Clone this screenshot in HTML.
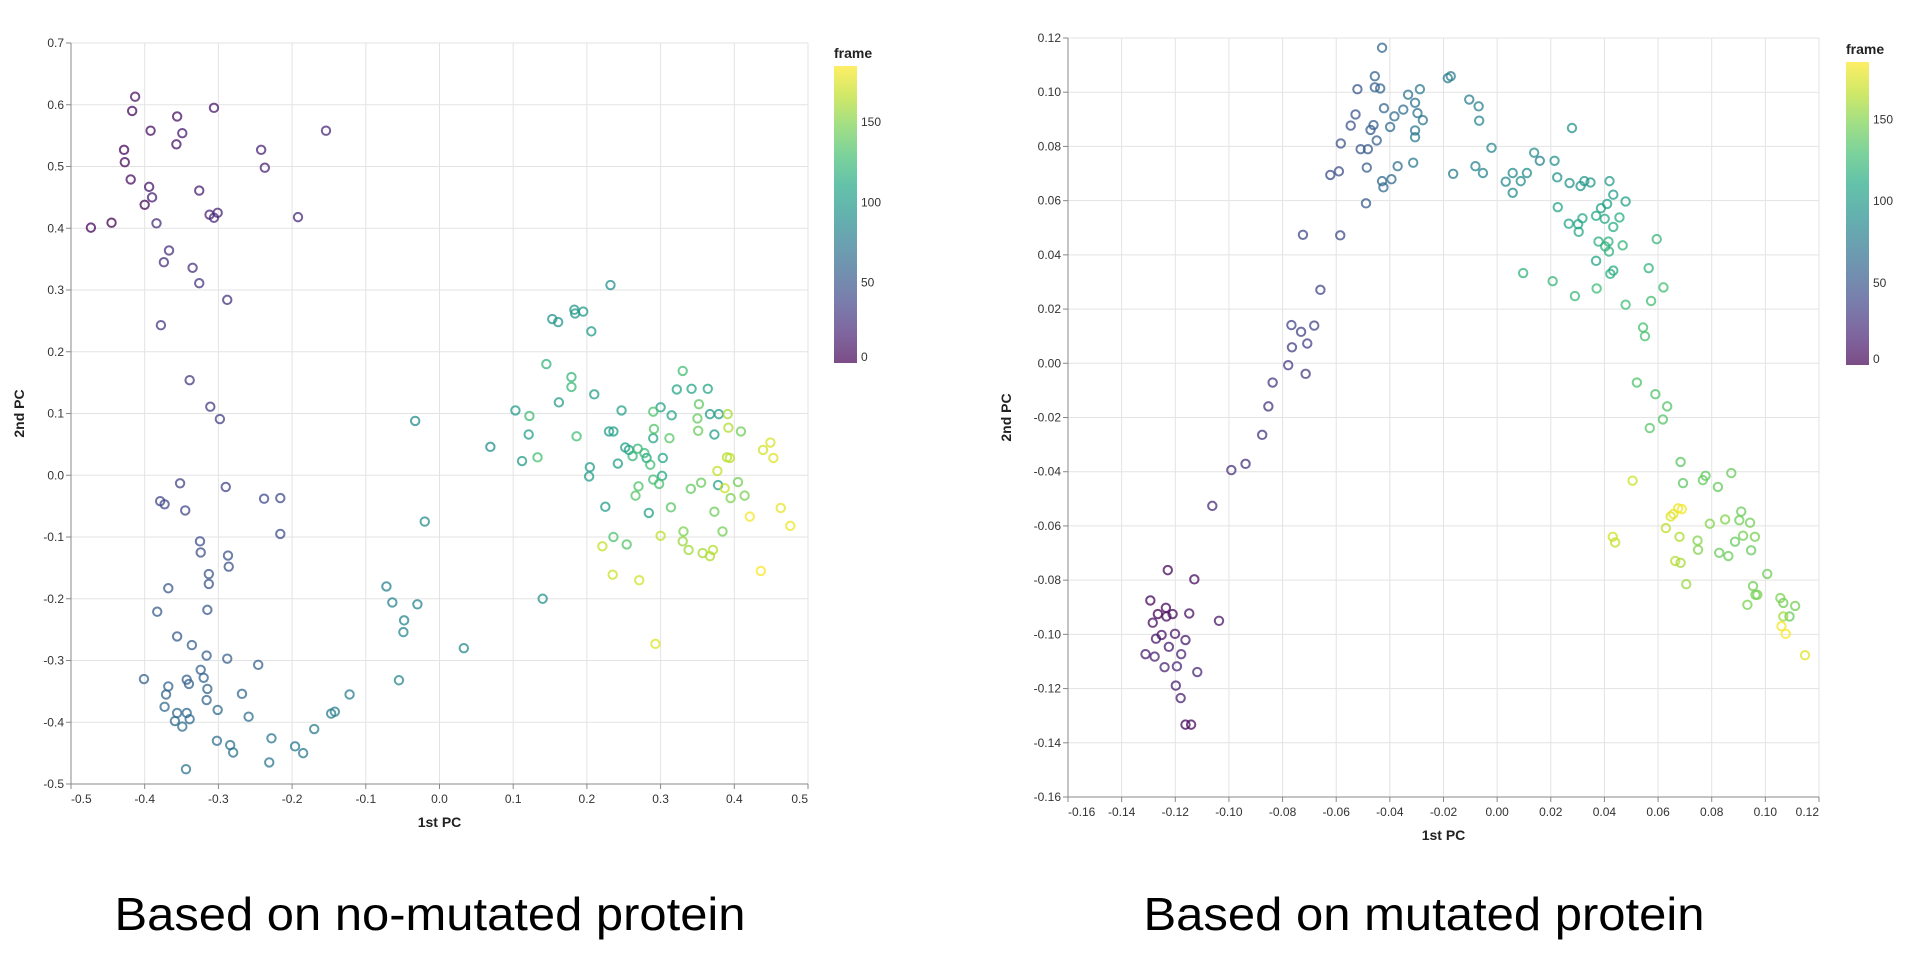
<!DOCTYPE html>
<html><head><meta charset="utf-8"><style>
html,body{margin:0;padding:0;background:#fff;}
svg{display:block;font-family:"Liberation Sans",Arial,sans-serif;}
</style></head><body>
<svg id="svg" width="1928" height="956" viewBox="0 0 1928 956"></svg>
<script>
// ---- Left chart data (no-mutated protein)
const leftPC1 = [-0.413,-0.417,-0.356,-0.306,-0.392,-0.349,-0.357,-0.154,-0.428,-0.242,-0.427,-0.237,-0.419,-0.394,-0.326,-0.390,-0.400,-0.312,-0.301,-0.306,-0.192,-0.473,-0.445,-0.384,-0.367,-0.374,-0.335,-0.326,-0.288,-0.378,-0.339,-0.311,-0.298,
-0.352,-0.290,-0.379,-0.373,-0.345,-0.238,-0.216,-0.216,-0.325,-0.324,-0.287,-0.286,-0.313,-0.313,-0.368,-0.315,-0.383,-0.356,-0.336,-0.316,-0.288,-0.246,-0.401,-0.343,-0.340,-0.324,-0.320,-0.368,-0.371,-0.315,-0.316,-0.268,-0.373,-0.356,-0.343,-0.359,-0.339,-0.349,-0.301,-0.259,-0.302,-0.284,-0.280,-0.344,-0.228,-0.231,-0.196,-0.185,-0.170,-0.147,-0.142,-0.122,
-0.072,-0.064,-0.030,-0.048,-0.049,-0.055,0.033,-0.033,-0.020,0.069,0.140,
0.232,0.153,0.161,0.183,0.184,0.195,0.206,0.103,0.121,0.112,0.162,0.210,0.247,0.300,0.315,0.322,0.342,0.364,0.330,0.367,0.379,0.373,0.230,0.236,0.252,0.257,0.290,0.281,0.303,0.302,0.204,0.203,0.242,0.225,0.284,0.378,
0.145,0.179,0.179,0.122,0.186,0.133,0.290,0.291,0.312,0.352,0.350,0.351,0.409,0.262,0.269,0.278,0.286,0.290,0.298,0.270,0.266,0.314,0.341,0.355,0.373,0.405,0.414,0.395,0.384,0.331,0.236,0.254,
0.391,0.392,0.390,0.394,0.377,0.387,0.439,0.449,0.453,0.463,0.476,0.421,0.330,0.338,0.357,0.367,0.371,0.300,0.221,0.235,0.271,0.436,0.293];
const leftPC2 = [0.613,0.590,0.581,0.595,0.558,0.554,0.536,0.558,0.527,0.527,0.507,0.498,0.479,0.467,0.461,0.450,0.438,0.422,0.425,0.417,0.418,0.401,0.409,0.408,0.364,0.345,0.336,0.311,0.284,0.243,0.154,0.111,0.091,
-0.013,-0.019,-0.042,-0.047,-0.057,-0.038,-0.037,-0.095,-0.107,-0.125,-0.130,-0.148,-0.160,-0.176,-0.183,-0.218,-0.221,-0.261,-0.275,-0.292,-0.297,-0.307,-0.330,-0.331,-0.338,-0.315,-0.328,-0.342,-0.355,-0.346,-0.364,-0.354,-0.375,-0.385,-0.385,-0.398,-0.395,-0.407,-0.380,-0.391,-0.430,-0.437,-0.449,-0.476,-0.426,-0.465,-0.439,-0.450,-0.411,-0.386,-0.383,-0.355,
-0.180,-0.206,-0.209,-0.235,-0.254,-0.332,-0.280,0.088,-0.075,0.046,-0.200,
0.308,0.253,0.248,0.268,0.262,0.265,0.233,0.105,0.066,0.023,0.118,0.131,0.105,0.110,0.097,0.139,0.140,0.140,0.169,0.099,0.099,0.066,0.071,0.071,0.045,0.041,0.060,0.028,0.028,-0.001,0.013,-0.002,0.019,-0.051,-0.061,-0.016,
0.180,0.159,0.143,0.096,0.063,0.029,0.103,0.075,0.060,0.115,0.092,0.072,0.071,0.031,0.043,0.036,0.017,-0.007,-0.014,-0.018,-0.033,-0.052,-0.022,-0.012,-0.059,-0.011,-0.033,-0.037,-0.091,-0.091,-0.100,-0.112,
0.099,0.077,0.029,0.028,0.007,-0.021,0.041,0.053,0.028,-0.053,-0.082,-0.067,-0.107,-0.121,-0.126,-0.131,-0.121,-0.098,-0.115,-0.161,-0.170,-0.155,-0.273];
const leftFrame = [10,4,8,12,6,14,9,20,3,18,5,16,7,11,13,15,2,17,19,21,22,1,0,23,24,25,26,27,28,29,30,32,34,
36,37,38,39,40,41,42,43,44,45,46,47,48,49,50,51,52,53,54,55,56,57,58,55,56,57,58,59,60,60,61,62,62,63,63,64,64,65,66,67,68,69,70,71,72,73,74,75,76,77,78,79,
80,81,82,83,84,85,86,88,89,90,92,
92,94,95,96,97,98,99,100,101,102,103,104,105,106,107,108,109,110,128,100,101,102,103,104,105,106,107,108,109,110,100,101,102,103,104,105,
120,122,124,126,128,130,132,134,136,138,140,142,144,121,123,125,127,129,131,133,135,137,139,141,143,145,147,149,146,148,132,134,
160,162,164,166,168,170,172,174,176,178,180,182,156,158,160,162,164,166,168,170,172,184,176];

// ---- Right chart data (mutated protein)
const rightPC1 = [-0.1228,-0.1129,-0.1293,-0.1235,-0.1265,-0.1210,-0.1233,-0.1148,-0.1284,-0.1037,-0.1251,-0.1201,-0.1272,-0.1162,-0.1224,-0.1311,-0.1277,-0.1178,-0.1240,-0.1194,-0.1118,-0.1198,-0.1180,-0.1162,-0.1141,
-0.1062,-0.0991,-0.0938,-0.0876,-0.0853,-0.0837,-0.0779,-0.0714,-0.0765,-0.0708,-0.0731,-0.0767,-0.0682,-0.0659,-0.0724,-0.0585,
-0.0622,-0.0590,-0.0583,-0.0546,-0.0528,-0.0521,-0.0509,-0.0482,-0.0486,-0.0489,-0.0472,-0.0461,-0.0449,-0.0456,-0.0456,-0.0436,-0.0429,-0.0422,-0.0429,-0.0424,-0.0394,-0.0399,-0.0383,-0.0350,-0.0371,-0.0332,-0.0306,-0.0297,-0.0277,-0.0306,-0.0306,-0.0288,-0.0313,-0.0184,-0.0173,-0.0164,-0.0104,-0.0069,-0.0067,-0.0081,-0.0053,-0.0021,
0.0032,0.0058,0.0058,0.0088,0.0111,0.0138,0.0159,0.0214,0.0224,0.0270,0.0279,0.0311,0.0325,0.0348,0.0419,0.0433,0.0479,0.0410,0.0387,0.0226,
0.0267,0.0302,0.0318,0.0304,0.0369,0.0401,0.0456,0.0433,0.0378,0.0415,0.0403,0.0417,0.0468,0.0595,0.0369,0.0433,0.0422,0.0565,0.0097,0.0207,0.0290,0.0371,0.0479,0.0574,0.0620,0.0544,0.0551,
0.0521,0.0590,0.0634,0.0618,0.0569,0.0684,0.0693,0.0777,0.0767,0.0823,0.0873,0.0910,0.0903,0.0943,0.0917,0.0961,0.0887,0.0947,0.0828,0.0862,0.1007,0.0954,0.0963,0.0970,0.0933,0.1056,0.1067,0.1111,0.1090,0.1067,0.1060,0.1076,0.1148,
0.0505,0.0431,0.0440,0.0629,0.0647,0.0657,0.0675,0.0689,0.0680,0.0664,0.0684,0.0705,0.0747,0.0749,0.0793,0.0850];
const rightPC2 = [-0.0763,-0.0797,-0.0875,-0.0902,-0.0925,-0.0925,-0.0934,-0.0923,-0.0957,-0.0950,-0.1002,-0.0998,-0.1016,-0.1021,-0.1046,-0.1073,-0.1082,-0.1073,-0.1121,-0.1118,-0.1139,-0.1189,-0.1235,-0.1333,-0.1333,
-0.0526,-0.0394,-0.0371,-0.0264,-0.0159,-0.0071,-0.0007,-0.0039,0.0059,0.0073,0.0116,0.0141,0.0139,0.0271,0.0474,0.0472,
0.0695,0.0708,0.0811,0.0877,0.0918,0.1011,0.0790,0.0790,0.0722,0.0590,0.0861,0.0879,0.0822,0.1059,0.1018,0.1014,0.1164,0.0941,0.0672,0.0649,0.0679,0.0872,0.0911,0.0936,0.0727,0.0991,0.0961,0.0923,0.0897,0.0859,0.0834,0.1011,0.0740,0.1052,0.1059,0.0699,0.0973,0.0948,0.0895,0.0727,0.0702,0.0795,
0.0670,0.0702,0.0629,0.0672,0.0702,0.0777,0.0747,0.0747,0.0686,0.0665,0.0868,0.0654,0.0672,0.0667,0.0672,0.0622,0.0597,0.0588,0.0572,0.0576,
0.0515,0.0513,0.0535,0.0485,0.0544,0.0533,0.0538,0.0503,0.0449,0.0449,0.0431,0.0412,0.0435,0.0458,0.0378,0.0342,0.0330,0.0351,0.0333,0.0303,0.0248,0.0276,0.0216,0.0230,0.0280,0.0132,0.0100,
-0.0071,-0.0114,-0.0159,-0.0207,-0.0239,-0.0364,-0.0442,-0.0415,-0.0431,-0.0456,-0.0405,-0.0547,-0.0579,-0.0588,-0.0636,-0.0640,-0.0658,-0.0690,-0.0699,-0.0711,-0.0777,-0.0822,-0.0854,-0.0854,-0.0891,-0.0866,-0.0884,-0.0895,-0.0934,-0.0934,-0.0970,-0.0998,-0.1077,
-0.0433,-0.0640,-0.0661,-0.0608,-0.0565,-0.0556,-0.0535,-0.0538,-0.0640,-0.0729,-0.0736,-0.0815,-0.0654,-0.0688,-0.0592,-0.0576];
const rightFrame = [2,5,1,3,0,4,6,8,7,12,9,10,11,13,14,15,16,17,18,19,20,14,15,2,3,
22,24,25,27,28,30,31,32,33,34,35,36,37,38,40,42,
44,45,46,47,48,49,50,51,52,53,54,55,56,57,58,59,60,61,62,63,64,65,66,67,68,69,70,71,72,73,74,75,76,77,78,76,78,80,
82,83,84,85,86,87,88,89,90,91,80,92,93,94,95,96,97,98,99,100,
104,105,106,107,108,109,110,111,112,113,114,115,116,117,118,119,120,121,108,112,116,118,120,122,124,126,127,
128,129,130,131,132,133,134,135,136,137,138,139,140,141,142,143,144,145,146,147,140,141,142,143,144,145,146,147,148,149,145,146,140,
158,182,184,176,170,172,168,166,174,178,180,182,162,164,160,156];

const leftXTicks = [-0.5,-0.4,-0.3,-0.2,-0.1,0.0,0.1,0.2,0.3,0.4,0.5];
const leftYTicks = [-0.5,-0.4,-0.3,-0.2,-0.1,0.0,0.1,0.2,0.3,0.4,0.5,0.6,0.7];
const rightXTicks = [-0.16,-0.14,-0.12,-0.10,-0.08,-0.06,-0.04,-0.02,0.00,0.02,0.04,0.06,0.08,0.10,0.12];
const rightYTicks = [-0.16,-0.14,-0.12,-0.10,-0.08,-0.06,-0.04,-0.02,0.00,0.02,0.04,0.06,0.08,0.10,0.12];
const legendTicks = [0,50,100,150];
const frameMax = 185;

const NS = "http://www.w3.org/2000/svg";
const svg = document.getElementById('svg');
const viridis = ["#440154","#482475","#414487","#355f8d","#2a788e","#21918c","#22a884","#44bf70","#7ad151","#bddf26","#fde725"];
function hex(c){return [1,3,5].map(i=>parseInt(c.substr(i,2),16));}
function color(v){
  if (typeof v !== 'number' || isNaN(v)) v = 150;
  let t=Math.max(0,Math.min(1,v/frameMax))*10; let i=Math.min(9,Math.floor(t)); let f=t-i;
  const a=hex(viridis[i]), b=hex(viridis[i+1]);
  return "rgb("+a.map((x,k)=>Math.round(x+(b[k]-x)*f)).join(",")+")";
}
function el(tag, attrs, parent){
  const e=document.createElementNS(NS,tag);
  for(const k in attrs) e.setAttribute(k,attrs[k]);
  (parent||svg).appendChild(e); return e;
}

function chart(cfg){
  const g=el('g',{});
  
  
  const X=v=>cfg.x0+(v-cfg.xd[0])/(cfg.xd[1]-cfg.xd[0])*(cfg.x1-cfg.x0);
  const Y=v=>cfg.y1-(v-cfg.yd[0])/(cfg.yd[1]-cfg.yd[0])*(cfg.y1-cfg.y0);
  cfg.xt.forEach((t,i)=>{
    const l=el('line',{x1:X(t),x2:X(t),y1:cfg.y0,y2:cfg.y1,stroke:"#e3e3e3","stroke-width":1},g);
    
    
  });
  cfg.yt.forEach(t=>{
    const l=el('line',{x1:cfg.x0,x2:cfg.x1,y1:Y(t),y2:Y(t),stroke:"#e3e3e3","stroke-width":1},g);
    
    
  });
  const ax=el('line',{x1:cfg.x0,x2:cfg.x1,y1:cfg.y1,y2:cfg.y1,stroke:"#888","stroke-width":1},g);
  
  
  const ay=el('line',{x1:cfg.x0,x2:cfg.x0,y1:cfg.y0,y2:cfg.y1,stroke:"#888","stroke-width":1},g);
  
  
  cfg.xt.forEach((t,i)=>{
    el('line',{x1:X(t),x2:X(t),y1:cfg.y1,y2:cfg.y1+5,stroke:"#888"},g);
    const anchor=i===0?"start":(i===cfg.xt.length-1?"end":"middle");
    const tx=el('text',{x:X(t),y:cfg.y1+19,"font-size":12,fill:"#333","text-anchor":anchor},g);
    
    
    tx.textContent=t.toFixed(cfg.dec);
  });
  cfg.yt.forEach(t=>{
    el('line',{x1:cfg.x0-5,x2:cfg.x0,y1:Y(t),y2:Y(t),stroke:"#888"},g);
    const tx=el('text',{x:cfg.x0-7,y:Y(t)+4,"font-size":12,fill:"#333","text-anchor":"end"},g);
    
    
    tx.textContent=t.toFixed(cfg.dec);
  });
  const xTitle=el('text',{x:(cfg.x0+cfg.x1)/2,y:cfg.y1+43,"font-size":14,"font-weight":"bold",fill:"#222","text-anchor":"middle"},g);
  
  
  xTitle.textContent="1st PC";
  const yTitle=el('text',{x:0,y:0,"font-size":14,"font-weight":"bold",fill:"#222","text-anchor":"middle",transform:`translate(${cfg.ytx},${(cfg.y0+cfg.y1)/2}) rotate(-90)`},g);
  
  
  yTitle.textContent="2nd PC";
  cfg.px.forEach((v,i)=>{
    const c=el('circle',{cx:X(v),cy:Y(cfg.py[i]),r:4.2,fill:"none",stroke:color(cfg.pf[i]),"stroke-width":2,"stroke-opacity":0.75},g);
    
    
  });
  const lg=el('g',{},g);
  
  
  const lt=el('text',{x:cfg.lx,y:cfg.ly0-8,"font-size":14,"font-weight":"bold",fill:"#222"},lg);
  
  
  lt.textContent="frame";
  const gid='grad'+cfg.name;
  const defs=el('defs',{},lg);
  const lgd=el('linearGradient',{id:gid,x1:0,y1:1,x2:0,y2:0},defs);
  viridis.forEach((c,i)=>el('stop',{offset:(i/10),"stop-color":c},lgd));
  const r=el('rect',{x:cfg.lx,y:cfg.ly0,width:23,height:cfg.ly1-cfg.ly0,fill:`url(#${gid})`,opacity:0.7},lg);
  
  
  legendTicks.forEach((t,i)=>{
    const yy=cfg.ly1-t/frameMax*(cfg.ly1-cfg.ly0);
    const tx=el('text',{x:cfg.lx+27,y:i===0?yy-2:yy+4,"font-size":12,fill:"#333"},lg);
    
    
    tx.textContent=t;
  });
  const ti=el('text',{x:cfg.tx,y:930,"font-size":46,fill:"#000","text-anchor":"middle",textLength:cfg.tw,lengthAdjust:"spacingAndGlyphs"},g);
  
  
  ti.textContent=cfg.title;
}

chart({name:"left-chart",x0:71,x1:808,y0:43,y1:784,xd:[-0.5,0.5],yd:[-0.5,0.7],xt:leftXTicks,yt:leftYTicks,dec:1,ytx:24,
  px:leftPC1,py:leftPC2,pf:leftFrame,lx:834,ly0:66,ly1:363,tx:430,tw:631,title:"Based on no-mutated protein"});
chart({name:"right-chart",x0:1068,x1:1819,y0:38,y1:797,xd:[-0.16,0.12],yd:[-0.16,0.12],xt:rightXTicks,yt:rightYTicks,dec:2,ytx:1011,
  px:rightPC1,py:rightPC2,pf:rightFrame,lx:1846,ly0:62,ly1:365,tx:1424,tw:561,title:"Based on mutated protein"});
</script>
</body></html>
